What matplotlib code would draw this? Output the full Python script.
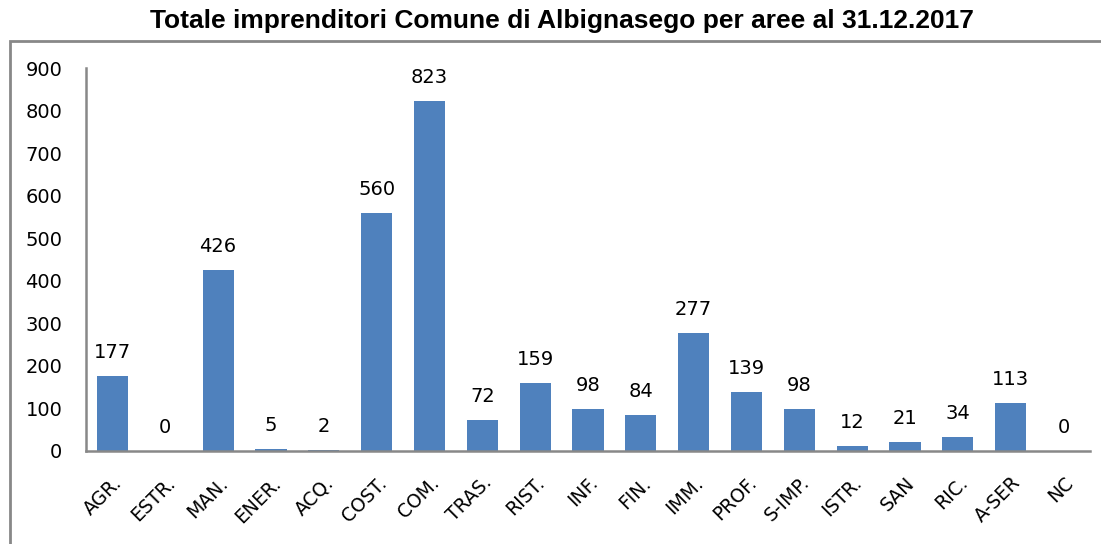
import matplotlib.pyplot as plt
from matplotlib.patches import Rectangle

# Dati: imprenditori per area
aree = ["AGR.", "ESTR.", "MAN.", "ENER.", "ACQ.", "COST.", "COM.", "TRAS.", "RIST.", "INF.",
        "FIN.", "IMM.", "PROF.", "S-IMP.", "ISTR.", "SAN", "RIC.", "A-SER", "NC"]
valori = [177, 0, 426, 5, 2, 560, 823, 72, 159, 98, 84, 277, 139, 98, 12, 21, 34, 113, 0]
y_ticks = [0, 100, 200, 300, 400, 500, 600, 700, 800, 900]

plt.rcParams['font.family'] = ['DejaVu Sans']

fig = plt.figure(figsize=(11.01, 5.44), dpi=100)
fig.patch.set_facecolor('white')

# cornice grigia attorno al grafico
fig.patches.append(Rectangle((10 / 1101, -0.2), 1.2, 1.2 - 41 / 544,
                             transform=fig.transFigure, fill=False,
                             edgecolor='#888888', linewidth=2))

fig.text(0.510, 1 - 21 / 544, "Totale imprenditori Comune di Albignasego per aree al 31.12.2017",
         ha='center', va='center', fontsize=19, fontweight='bold',
         family=['Liberation Sans', 'DejaVu Sans'])

ax = fig.add_axes([86 / 1101, 1 - 451 / 544, (1090 - 86) / 1101, (451 - 68) / 544])
x = range(len(aree))
bars = ax.bar(x, valori, width=0.59, color='#4f81bd')

for xi, v in zip(x, valori):
    ax.annotate(str(v), (xi, v), xytext=(0, 10), textcoords='offset points',
                ha='center', va='bottom', fontsize=14)

ax.set_xlim(-0.5, len(aree) - 0.5)
ax.set_ylim(0, 900)
ax.set_yticks(y_ticks)
ax.set_xticks(list(x))
ax.set_xticklabels(aree, rotation=45, ha='right', rotation_mode='anchor', fontsize=13.5)
ax.tick_params(axis='y', length=0, pad=17, labelsize=14)
ax.tick_params(axis='x', length=0, pad=16)

for s in ['top', 'right']:
    ax.spines[s].set_visible(False)
for s in ['left', 'bottom']:
    ax.spines[s].set_color('#888888')
    ax.spines[s].set_linewidth(1.8)

fig.savefig("out.png", dpi=100)
